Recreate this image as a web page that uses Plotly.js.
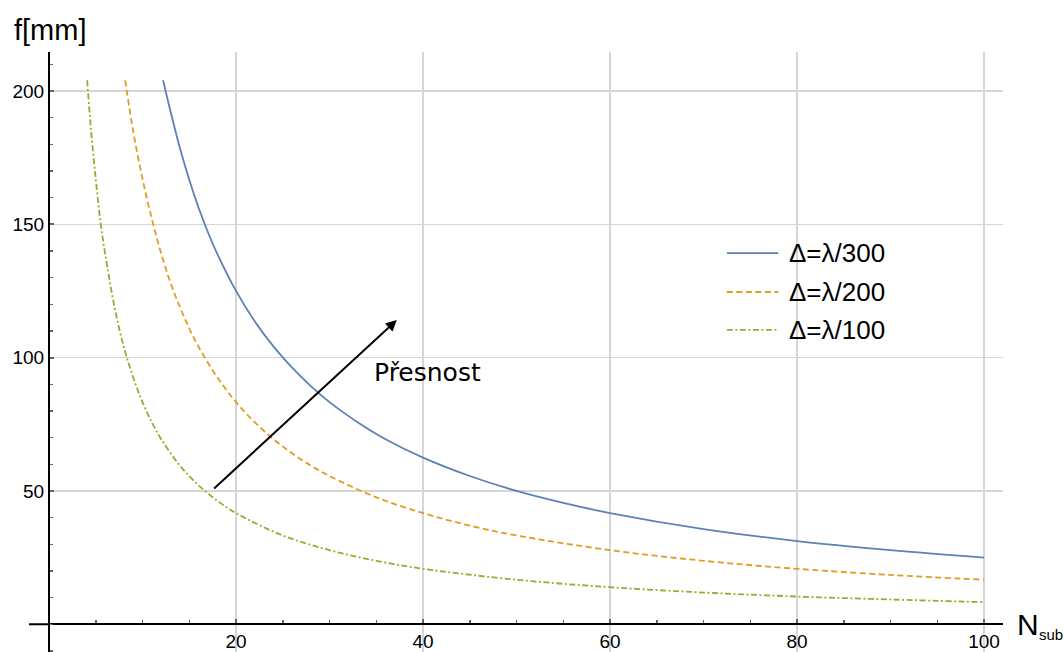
<!DOCTYPE html>
<html>
<head>
<meta charset="utf-8">
<script src="https://cdn.plot.ly/plotly-3.0.1.min.js"></script>
<style>
  html, body { margin: 0; padding: 0; background: #fff; }
  #chart { width: 1064px; height: 652px; }
</style>
</head>
<body>
<div id="chart"></div>
<script>
// Focal length f [mm] against the number of sub-apertures N_sub for three tolerances
const nBlue = [12.2, 13, 14, 15, 16, 17, 18, 20, 22, 24, 26, 28, 30, 33, 36, 40, 45, 50, 55, 60, 70, 80, 90, 100];
const fBlue = [204, 192.3, 178.6, 166.7, 156.2, 147, 138.9, 125, 113.6, 104.2, 96.2, 89.3, 83.3, 75.8, 69.4, 62.5, 55.6, 50, 45.5, 41.7, 35.7, 31.2, 27.8, 25];

const nOrange = [8.15, 9, 10, 11, 12, 13, 14, 15, 16, 18, 20, 22, 24, 26, 28, 30, 35, 40, 45, 50, 60, 70, 80, 90, 100];
const fOrange = [204, 185, 167, 152, 139, 128, 119, 111, 104, 92.6, 83.3, 75.8, 69.4, 64.1, 59.5, 55.6, 47.6, 41.7, 37, 33.3, 27.8, 23.8, 20.8, 18.5, 16.7];

const nGreen = [4.08, 4.5, 5, 5.5, 6, 7, 8, 9, 10, 11, 12, 14, 16, 18, 20, 25, 30, 35, 40, 50, 60, 70, 80, 90, 100];
const fGreen = [204, 185, 167, 151, 139, 119, 104, 92.6, 83.3, 75.7, 69.4, 59.5, 52.1, 46.3, 41.7, 33.3, 27.8, 23.8, 20.8, 16.7, 13.9, 11.9, 10.4, 9.3, 8.3];

const seriesNames = ["Δ=λ/300", "Δ=λ/200", "Δ=λ/100"];
const seriesColors = ["#5E81B5", "#E19C24", "#8FB032"];
const seriesDash = ["solid", "6px,3.5px", "6px,2.5px,2px,2.5px"];

const xTicks = [20, 40, 60, 80, 100];
const yTicks = [50, 100, 150, 200];
const xRange = [0, 102.03];
const yRange = [-10.4, 214.6];

// Arrow showing the direction of increasing precision
const arrowFrom = [17.5, 50.4];
const arrowTo = [37.2, 114.1];
const arrowLabel = "Přesnost";

const xs = [nBlue, nOrange, nGreen];
const ys = [fBlue, fOrange, fGreen];

const traces = xs.map((x, i) => ({
  type: "scatter",
  mode: "lines",
  x: x,
  y: ys[i],
  name: seriesNames[i],
  line: { color: seriesColors[i], width: 1.8, dash: seriesDash[i], shape: "spline", smoothing: 1 },
  hoverinfo: "skip",
  showlegend: false
}));

// paper-y position of the horizontal axis (f = 0)
const zeroFrac = (0 - yRange[0]) / (yRange[1] - yRange[0]);

const baseFont = "Liberation Sans, Arial, sans-serif";
const tickColor = "#666666";
const gridColor = "#d6d6d6";

// Legend drawn as sample lines plus labels
const legendRowsY = [139.2, 124.6, 110.4];
const shapes = [];
const annotations = [];
legendRowsY.forEach((yy, i) => {
  shapes.push({
    type: "line", xref: "x", yref: "y",
    x0: 72.5, x1: 78.0, y0: yy, y1: yy,
    line: { color: seriesColors[i], width: 1.8, dash: seriesDash[i] }
  });
  annotations.push({
    xref: "x", yref: "y", x: 78.95, y: yy, xanchor: "left", yanchor: "middle",
    text: seriesNames[i], showarrow: false,
    font: { family: baseFont, size: 26, color: "#000" }
  });
});

// horizontal axis continues a little to the left of the vertical axis
shapes.push({
  type: "line", xref: "paper", yref: "paper",
  x0: -0.021, x1: 0, y0: zeroFrac, y1: zeroFrac,
  line: { color: "#000", width: 2 }
});

annotations.push({
  xref: "x", yref: "y", axref: "x", ayref: "y",
  x: arrowTo[0], y: arrowTo[1], ax: arrowFrom[0], ay: arrowFrom[1],
  text: "", showarrow: true, arrowhead: 2, arrowsize: 1.1, arrowwidth: 2, arrowcolor: "#000"
});
annotations.push({
  xref: "x", yref: "y", x: 34.55, y: 94.3, xanchor: "left", yanchor: "middle",
  text: arrowLabel, showarrow: false,
  font: { family: "DejaVu Sans, sans-serif", size: 25, color: "#000" }
});

// axis titles
annotations.push({
  xref: "paper", yref: "paper", x: -0.039, y: 1.0367, xanchor: "left", yanchor: "middle",
  text: "f[mm]", showarrow: false,
  font: { family: baseFont, size: 29, color: "#000" }
});
annotations.push({
  xref: "paper", yref: "paper", x: 1.0125, y: zeroFrac, xanchor: "left", yanchor: "middle",
  text: "N", showarrow: false,
  font: { family: baseFont, size: 30, color: "#000" }
});
annotations.push({
  xref: "paper", yref: "paper", x: 1.036, y: zeroFrac - 0.017, xanchor: "left", yanchor: "middle",
  text: "sub", showarrow: false,
  font: { family: baseFont, size: 15, color: "#000" }
});

const layout = {
  width: 1064,
  height: 652,
  margin: { l: 49, r: 61, t: 52, b: 0, pad: 0 },
  paper_bgcolor: "#fff",
  plot_bgcolor: "#fff",
  showlegend: false,
  font: { family: baseFont, size: 19, color: "#000" },
  xaxis: {
    range: xRange,
    anchor: "free",
    position: zeroFrac,
    showline: true, linecolor: "#000", linewidth: 2,
    zeroline: false,
    showgrid: true, gridcolor: gridColor, gridwidth: 1.5,
    tickmode: "array", tickvals: xTicks, ticktext: xTicks.map(String),
    ticks: "inside", ticklen: 4, tickwidth: 2, tickcolor: tickColor,
    minor: { tickmode: "linear", tick0: 0, dtick: 5, ticks: "inside", ticklen: 3, tickwidth: 1.5, tickcolor: tickColor, showgrid: false },
    tickfont: { family: baseFont, size: 19, color: "#000" },
    fixedrange: true
  },
  yaxis: {
    range: yRange,
    anchor: "free",
    position: 0,
    showline: true, linecolor: "#000", linewidth: 2,
    zeroline: false,
    showgrid: true, gridcolor: gridColor, gridwidth: 1.5,
    tickmode: "array", tickvals: yTicks, ticktext: yTicks.map(String),
    ticks: "inside", ticklen: 4, tickwidth: 2, tickcolor: tickColor,
    minor: { tickmode: "linear", tick0: 0, dtick: 10, ticks: "inside", ticklen: 3, tickwidth: 1.5, tickcolor: tickColor, showgrid: false },
    tickfont: { family: baseFont, size: 19, color: "#000" },
    fixedrange: true
  },
  shapes: shapes,
  annotations: annotations
};

Plotly.newPlot("chart", traces, layout, { displayModeBar: false, staticPlot: true });
</script>
</body>
</html>
